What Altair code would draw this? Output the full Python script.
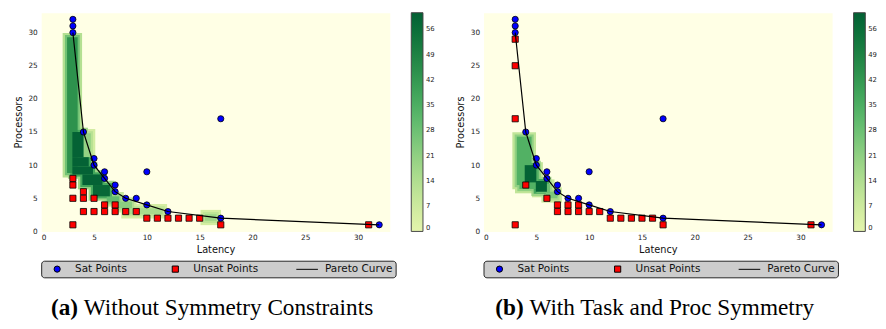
import altair as alt
import pandas as pd

# ---------------- data ----------------
sat_lat = [3, 3, 3, 4, 5, 5, 6, 6, 7, 7, 8, 9, 10, 10, 12, 17, 17, 32]
sat_proc = [32, 31, 30, 15, 11, 10, 9, 8, 7, 6, 5, 5, 9, 4, 3, 17, 2, 1]

unsat_a_lat = [3, 3, 3, 3, 4, 4, 4, 5, 5, 6, 6, 7, 7, 8, 9, 10, 11, 12, 13, 14, 15, 17, 31]
unsat_a_proc = [8, 7, 5, 1, 6, 5, 3, 5, 3, 4, 3, 4, 3, 3, 3, 2, 2, 2, 2, 2, 2, 1, 1]

unsat_b_lat = [3, 3, 3, 3, 4, 6, 7, 8, 9, 7, 8, 9, 10, 11, 12, 13, 14, 15, 16, 17, 31]
unsat_b_proc = [29, 25, 17, 1, 7, 5, 4, 4, 4, 3, 3, 3, 3, 3, 2, 2, 2, 2, 2, 1, 1]

pareto_lat = [3, 4, 5, 6, 7, 8, 10, 12, 17, 32]
pareto_proc = [30, 15, 10, 8, 6, 5, 4, 3, 2, 1]

# heatmap patches: latency from/to, processors from/to, density value
hm_a_x0 = [15.5, 8.0, 7.2, 4.0, 6.2, 2.45, 2.95, 2.95, 2.95, 3.9, 4.9]
hm_a_x1 = [16.6, 11.5, 8.6, 4.7, 7.4, 3.45, 4.0, 4.5, 4.9, 5.8, 6.5]
hm_a_y0 = [1.6, 2.6, 3.5, 11.2, 4.4, 8.8, 11.2, 9.8, 8.6, 7.0, 5.3]
hm_a_y1 = [2.6, 3.5, 4.5, 14.8, 5.3, 29.3, 15.0, 11.2, 9.8, 8.6, 7.0]
hm_a_v = [18, 16, 22, 20, 30, 44, 60, 60, 60, 60, 58]

hm_b_x0 = [5.9, 5.0, 3.15, 3.4, 3.9, 4.95]
hm_b_x1 = [7.0, 6.3, 4.55, 5.2, 5.0, 6.0]
hm_b_y0 = [5.0, 5.8, 7.0, 6.4, 7.4, 6.0]
hm_b_y1 = [6.0, 7.2, 14.3, 9.8, 10.0, 7.6]
hm_b_v = [25, 28, 34, 34, 60, 60]

cbar_ticks = [0, 7, 14, 21, 28, 35, 42, 49, 56]
axis_ticks = [0, 5, 10, 15, 20, 25, 30]
legend_names = ["Sat Points", "Unsat Points", "Pareto Curve"]
legend_colors = ["#0000ff", "#ff0000", "#000000"]
legend_shapes = ["circle", "square", "M-3.5,0H3.5"]
cap_tags = ["(a)", "(b)"]
cap_texts = ["Without Symmetry Constraints", "With Task and Proc Symmetry"]

W, H = 357, 224
FONT = "DejaVu Sans"
CAP_FONT = "Liberation Serif"
CAP_SIZE = 23.8

x_scale = alt.Scale(domain=[0, 33], nice=False, zero=False)
y_scale = alt.Scale(domain=[0, 33], nice=False, zero=False)
fill_scale = alt.Scale(scheme="yellowgreen", domain=[0, 60.6])

x_axis = alt.Axis(title="Latency", values=axis_ticks, grid=False, domain=False, ticks=False,
                  labelFontSize=7.5, labelPadding=2, labelColor="#222222", labelFont=FONT,
                  titleFont=FONT, titleFontSize=10, titleFontWeight="normal", titleColor="#111111",
                  titlePadding=4)
y_axis = alt.Axis(title="Processors", values=axis_ticks, grid=False, domain=False, ticks=False,
                  labelFontSize=7.5, labelPadding=4, labelColor="#222222", labelFont=FONT,
                  titleFont=FONT, titleFontSize=10, titleFontWeight="normal", titleColor="#111111",
                  titlePadding=5)

cb_legend = alt.Legend(title=None, orient="right", offset=22, direction="vertical",
                       gradientLength=H, gradientThickness=12, values=cbar_ticks,
                       labelFontSize=7, labelOffset=3, labelColor="#222222", labelFont=FONT,
                       labelBaseline="middle",
                       gradientStrokeColor="#444444", gradientStrokeWidth=1)

sym_legend = alt.Legend(title=None, orient="none", legendX=0, legendY=254, direction="horizontal",
                        columns=3, fillColor="#cccccc", strokeColor="#222222", cornerRadius=3,
                        padding=3, symbolOffset=8, labelOffset=13, columnPadding=36,
                        labelFontSize=10.7, labelFont=FONT, labelColor="#111111",
                        symbolSize=40, symbolStrokeColor="#000000", symbolStrokeWidth=1)


def X(f):
    return alt.X(f, type="quantitative", scale=x_scale, axis=x_axis)


def Y(f):
    return alt.Y(f, type="quantitative", scale=y_scale, axis=y_axis)


def panel(unsat_lat, unsat_proc, x0, x1, y0, y1, v, tag, text, tag_x, text_x):
    hm = pd.DataFrame({"x0": x0, "x1": x1, "y0": y0, "y1": y1, "v": v})
    base = alt.Chart(hm)
    layers = []
    # soft edges: larger, lighter patches underneath the main patches
    for grow_x, grow_y, k in [(0.42, 0.65, 0.3), (0.2, 0.32, 0.62)]:
        layers.append(
            base.transform_calculate(
                a=f"datum.x0-{grow_x}", b=f"datum.x1+{grow_x}",
                c=f"datum.y0-{grow_y}", d=f"datum.y1+{grow_y}", w=f"datum.v*{k}")
            .mark_rect()
            .encode(x=X("a"), x2="b:Q", y=Y("c"), y2="d:Q",
                    fill=alt.Fill("w:Q", scale=fill_scale, legend=cb_legend))
        )
    layers.append(
        base.mark_rect().encode(x=X("x0"), x2="x1:Q", y=Y("y0"), y2="y1:Q",
                                fill=alt.Fill("v:Q", scale=fill_scale, legend=cb_legend))
    )
    pts = pd.DataFrame({
        "lat": sat_lat + unsat_lat,
        "proc": sat_proc + unsat_proc,
        "type": [legend_names[0]] * len(sat_lat) + [legend_names[1]] * len(unsat_lat),
    })
    layers.append(
        alt.Chart(pts).mark_point(filled=True, size=40, stroke="#000000", strokeWidth=0.8, opacity=1)
        .encode(x=X("lat"), y=Y("proc"),
                color=alt.Color("type:N", scale=alt.Scale(domain=legend_names, range=legend_colors),
                                legend=sym_legend),
                shape=alt.Shape("type:N", scale=alt.Scale(domain=legend_names, range=legend_shapes),
                                legend=sym_legend))
    )
    par = pd.DataFrame({"lat": pareto_lat, "proc": pareto_proc})
    layers.append(
        alt.Chart(par).mark_line(color="#000000", strokeWidth=1.2).encode(x=X("lat"), y=Y("proc"))
    )
    cap = pd.DataFrame({"tag": [tag], "text": [text]})
    layers.append(
        alt.Chart(cap).mark_text(font=CAP_FONT, fontSize=CAP_SIZE, fontWeight="bold",
                                 align="left", baseline="alphabetic", color="#000000")
        .encode(text="tag:N", x=alt.value(tag_x), y=alt.value(310))
    )
    layers.append(
        alt.Chart(cap).mark_text(font=CAP_FONT, fontSize=CAP_SIZE, fontWeight="normal",
                                 align="left", baseline="alphabetic", color="#000000")
        .encode(text="text:N", x=alt.value(text_x), y=alt.value(310))
    )
    return alt.layer(*layers).properties(width=W, height=H)


pa = panel(unsat_a_lat, unsat_a_proc, hm_a_x0, hm_a_x1, hm_a_y0, hm_a_y1, hm_a_v,
           cap_tags[0], cap_texts[0], 10, 43.7)
pb = panel(unsat_b_lat, unsat_b_proc, hm_b_x0, hm_b_x1, hm_b_y0, hm_b_y1, hm_b_v,
           cap_tags[1], cap_texts[1], 12, 47)

chart = alt.hconcat(pa, pb, spacing=19).resolve_scale(
    fill="independent", color="independent", shape="independent"
).resolve_legend(
    fill="independent", color="independent", shape="independent"
).properties(
    padding={"left": 4, "top": 0, "right": 0, "bottom": 0}
).configure(font=FONT).configure_view(fill="#ffffe5", stroke="transparent")

chart.save("out.html", embed_options={"renderer": "svg", "actions": False})
